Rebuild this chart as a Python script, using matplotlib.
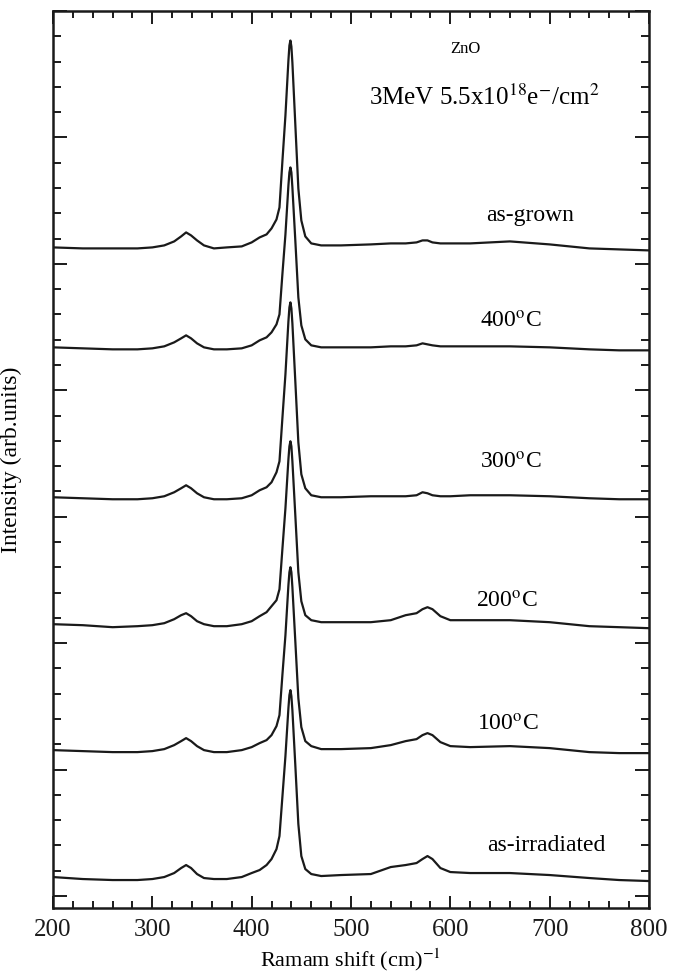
import numpy as np
import matplotlib.pyplot as plt
from matplotlib.ticker import MultipleLocator

plt.rcParams['font.family'] = ['Liberation Serif', 'DejaVu Serif']
plt.rcParams['mathtext.fontset'] = 'stix'

# Raman shift grid (cm^-1), shared by all spectra
shift = [200, 230, 260, 285, 300, 312, 322, 329, 334, 339, 345, 352, 362, 375, 390,
         400, 408, 415, 420, 425, 428, 431, 434, 437, 438, 439, 440, 441, 444, 447,
         450, 454, 460, 470, 490, 520, 540, 555, 566, 572, 577, 582, 590, 600, 620,
         660, 700, 740, 770, 800]

# intensities (arb. units, already stacked)
as_grown = [649, 648, 648, 648, 649, 651, 655, 660, 664, 661, 656, 651, 648, 649, 650,
            654, 659, 662, 668, 677, 689, 736, 781, 836, 851, 856, 850, 834, 771, 708,
            676, 660, 653, 651, 651, 652, 653, 653, 654, 656, 656, 654, 653, 653, 653,
            655, 652, 648, 647, 646]
t400 = [549, 548, 547, 547, 548, 550, 554, 558, 561, 558, 553, 549, 547, 547, 548,
        551, 556, 559, 564, 572, 582, 623, 662, 711, 724, 729, 724, 709, 655, 599,
        571, 557, 551, 549, 549, 549, 550, 550, 551, 553, 552, 551, 550, 550, 550,
        550, 549, 547, 546, 546]
t300 = [399, 398, 397, 397, 398, 400, 404, 408, 411, 408, 403, 399, 397, 397, 398,
        401, 406, 409, 414, 424, 435, 479, 522, 575, 589, 594, 588, 573, 514, 454,
        422, 408, 401, 399, 399, 400, 400, 400, 401, 404, 403, 401, 400, 400, 401,
        401, 400, 398, 397, 397]
t200 = [272, 271, 269, 270, 271, 273, 277, 281, 283, 280, 275, 272, 270, 270, 272,
        275, 280, 284, 290, 296, 307, 348, 388, 437, 450, 455, 450, 435, 380, 324,
        295, 281, 276, 274, 274, 274, 276, 281, 283, 287, 289, 287, 280, 276, 276,
        276, 274, 270, 269, 268]
t100 = [146, 145, 144, 144, 145, 147, 151, 155, 158, 155, 150, 146, 144, 144, 146,
        149, 153, 156, 161, 170, 181, 222, 261, 311, 324, 329, 324, 309, 254, 198,
        169, 155, 150, 147, 147, 148, 151, 155, 157, 161, 163, 161, 154, 150, 149,
        150, 148, 144, 143, 143]
as_irr = [19, 17, 16, 16, 17, 19, 23, 28, 31, 28, 22, 18, 17, 17, 19,
          23, 26, 31, 37, 47, 60, 100, 140, 188, 201, 206, 200, 186, 130, 72,
          40, 27, 22, 20, 21, 22, 29, 31, 33, 37, 40, 37, 28, 24, 23,
          23, 21, 18, 16, 15]

spectra = [as_grown, t400, t300, t200, t100, as_irr]
labels = ['as-grown', r'400$^{\mathrm{o}}$C', r'300$^{\mathrm{o}}$C',
          r'200$^{\mathrm{o}}$C', r'100$^{\mathrm{o}}$C', 'as-irradiated']
label_pos = [(680, 681), (661, 574), (661, 433), (657, 294), (658, 171), (697, 51)]

fig = plt.figure(figsize=(6.83, 9.77), dpi=100)
ax = fig.add_axes([0.0776, 0.0706, 0.8726, 0.9181])

for ys in spectra:
    ax.plot(shift, ys, color='#1a1a1a', lw=1.6)

for lab, (lx, ly) in zip(labels, label_pos):
    ax.text(lx, ly, lab, fontsize=17, ha='center', va='center')

ax.text(615, 848, 'ZnO', fontsize=12, ha='center', va='center')
ax.text(634, 799, r'3MeV 5.5x10$^{18}$e$^{-}$/cm$^{2}$', fontsize=18,
        ha='center', va='center')

ax.set_xlim(200, 800)
ax.set_ylim(-12, 885.5)
ax.xaxis.set_major_locator(MultipleLocator(100))
ax.xaxis.set_minor_locator(MultipleLocator(20))
ax.yaxis.set_major_locator(MultipleLocator(126.5))
ax.yaxis.set_minor_locator(MultipleLocator(25.3))
ax.tick_params(which='both', direction='in', top=True, right=True, width=1.4,
               colors='#1a1a1a')
ax.tick_params(which='major', length=9, labelsize=18, pad=8)
ax.tick_params(which='minor', length=5)
ax.tick_params(axis='y', which='major', length=10)
ax.tick_params(axis='y', which='minor', length=6)
ax.set_yticklabels([])
for sp in ax.spines.values():
    sp.set_linewidth(1.8)
    sp.set_color('#1a1a1a')

ax.set_xlabel(r'Ramam shift (cm)$^{-1}$', fontsize=16, labelpad=4)
ax.set_ylabel('Intensity (arb.units)', fontsize=17, labelpad=14)

fig.savefig('out.png', dpi=100)
